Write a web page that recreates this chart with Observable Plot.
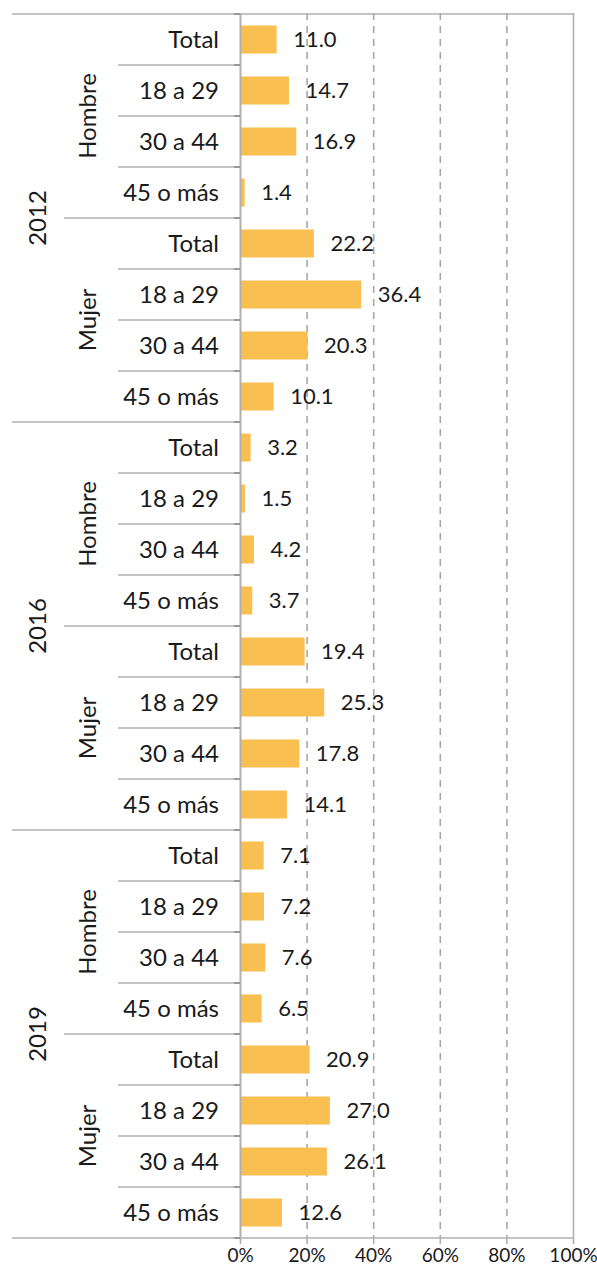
<!DOCTYPE html>
<html>
<head>
<meta charset="utf-8">
<script src="https://cdn.jsdelivr.net/npm/d3@7"></script>
<script src="https://cdn.jsdelivr.net/npm/@observablehq/plot@0.6"></script>
<style>
  html, body { margin: 0; padding: 0; background: #fff; }
  #chart svg { display: block; }
</style>
</head>
<body>
<div id="chart"></div>
<script>
const years = ["2012", "2016", "2019"];
const sexes = ["Hombre", "Mujer"];
const ages = ["Total", "18 a 29", "30 a 44", "45 o más"];
const values2012 = [11.0, 14.7, 16.9, 1.4, 22.2, 36.4, 20.3, 10.1];
const values2016 = [3.2, 1.5, 4.2, 3.7, 19.4, 25.3, 17.8, 14.1];
const values2019 = [7.1, 7.2, 7.6, 6.5, 20.9, 27.0, 26.1, 12.6];
const xTicks = [0, 20, 40, 60, 80, 100];
const gridTicks = [20, 40, 60, 80];

const valuesByYear = {"2012": values2012, "2016": values2016, "2019": values2019};
const rows = [];
years.forEach(yr => sexes.forEach((sx, si) => ages.forEach((ag, ai) => {
  rows.push({year: yr, sex: sx, age: ag, key: `${yr}|${sx}|${ag}`, value: valuesByYear[yr][si * 4 + ai]});
})));
const keys = rows.map(d => d.key);

const lineColor = "#b0b0b0";
const textColor = "#1a1a1a";
const FONT = "Lato, 'Noto Sans', sans-serif";

function hierarchy(index, scales, values, dimensions) {
  const y = scales.y;
  const bw = y(keys[1]) - y(keys[0]);
  const left = dimensions.marginLeft;
  const right = dimensions.width - dimensions.marginRight;
  const g = d3.create("svg:g").attr("font-family", FONT).attr("fill", textColor);
  for (let k = 0; k <= keys.length; k++) {
    const yy = k < keys.length ? y(keys[k]) : y(keys[keys.length - 1]) + bw;
    let x1;
    if (k % 8 === 0) x1 = left - 228;
    else if (k % 4 === 0) x1 = left - 176;
    else x1 = left - 122;
    const x2 = (k === 0 || k === keys.length) ? right : left;
    g.append("line").attr("x1", x1).attr("x2", x2).attr("y1", yy).attr("y2", yy)
      .attr("stroke", lineColor).attr("stroke-width", 1.6);
    g.append("line").attr("x1", left - 6).attr("x2", left).attr("y1", yy).attr("y2", yy)
      .attr("stroke", "#999").attr("stroke-width", 2);
  }
  rows.forEach(d => {
    g.append("text").attr("x", left - 21).attr("y", y(d.key) + bw / 2)
      .attr("dy", "0.35em").attr("text-anchor", "end").attr("font-size", 24).text(d.age);
  });
  years.forEach(yr => sexes.forEach(sx => {
    const k0 = `${yr}|${sx}|${ages[0]}`;
    const cy = y(k0) + bw * ages.length / 2;
    const cx = left - 152;
    g.append("text").attr("transform", `translate(${cx},${cy}) rotate(-90)`)
      .attr("dy", "0.35em").attr("text-anchor", "middle").attr("font-size", 24).text(sx);
  }));
  years.forEach(yr => {
    const k0 = `${yr}|${sexes[0]}|${ages[0]}`;
    const cy = y(k0) + bw * ages.length * sexes.length / 2;
    const cx = left - 202;
    g.append("text").attr("transform", `translate(${cx},${cy}) rotate(-90)`)
      .attr("dy", "0.35em").attr("text-anchor", "middle").attr("font-size", 24).text(yr);
  });
  return g.node();
}

const chart = Plot.plot({
  width: 597,
  height: 1273,
  marginLeft: 240,
  marginRight: 24,
  marginTop: 13,
  marginBottom: 35,
  style: {fontFamily: FONT, color: textColor, background: "#fff"},
  x: {domain: [0, 100], label: null},
  y: {type: "band", domain: keys, padding: 0, axis: null},
  marks: [
    Plot.ruleX(gridTicks, {stroke: "#a8a8a8", strokeWidth: 1.6, strokeDasharray: "7,6"}),
    Plot.barX(rows, {x: "value", y: "key", fill: "#f9bf51", insetTop: 11.5, insetBottom: 11.5}),
    Plot.text(rows, {x: "value", y: "key", text: d => d.value.toFixed(1), textAnchor: "start", dx: 16, fontSize: 22, fill: textColor}),
    Plot.ruleX([0], {stroke: lineColor, strokeWidth: 2}),
    Plot.ruleX([100], {stroke: lineColor, strokeWidth: 1.6}),
    Plot.axisX({ticks: xTicks, tickFormat: d => d + "%", tickSize: 6, tickPadding: 4, stroke: lineColor, strokeWidth: 1.6, fontSize: 19, label: null}),
    hierarchy
  ]
});
document.getElementById("chart").appendChild(chart);
</script>
</body>
</html>
